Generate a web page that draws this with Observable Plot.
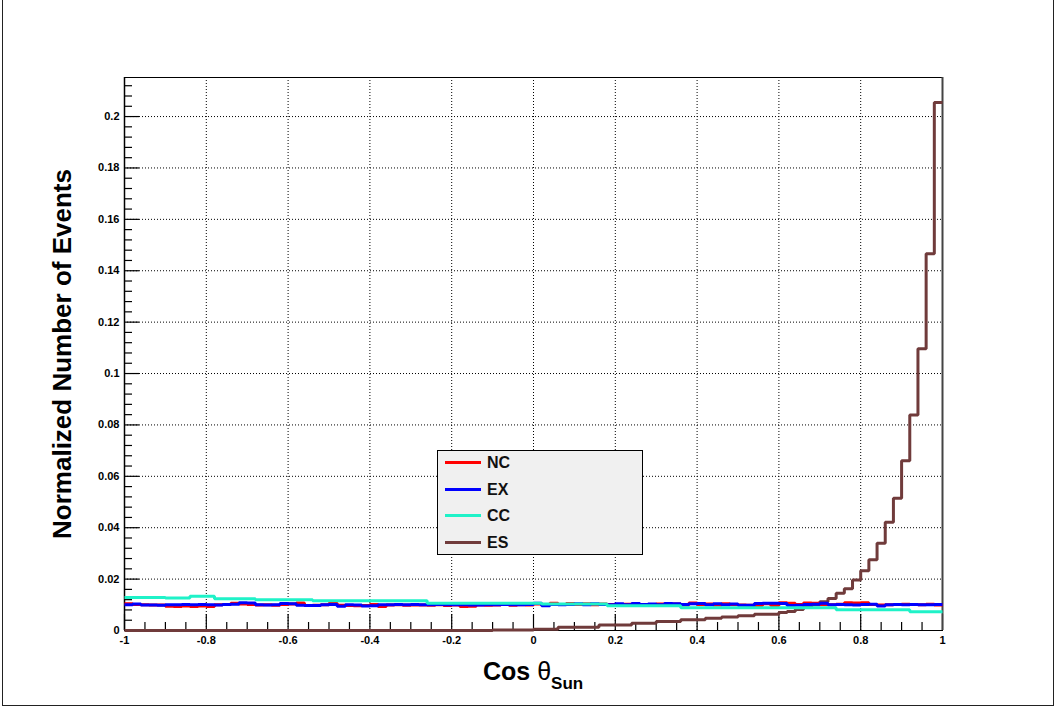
<!DOCTYPE html>
<html>
<head>
<meta charset="utf-8">
<script src="https://cdn.jsdelivr.net/npm/d3@7"></script>
<script src="https://cdn.jsdelivr.net/npm/@observablehq/plot@0.6"></script>
<style>
  body { margin: 0; background: #fff; }
  #wrap { position: relative; width: 1056px; height: 708px; overflow: hidden; font-family: "Liberation Sans", Arial, sans-serif; }
  #canvasBorder { position: absolute; left: 2px; top: -2px; width: 1052px; height: 708px; border: 1px solid #222; box-sizing: border-box; pointer-events: none; }
  #chart { position: absolute; left: 0; top: 0; }
  #ytitle { position: absolute; left: 62px; top: 354px; transform: translate(-50%, -50%) rotate(-90deg); white-space: nowrap; font-weight: bold; font-size: 26px; color: #000; }
  #xtitle { position: absolute; left: 483px; top: 656px; white-space: nowrap; font-weight: bold; font-size: 25px; line-height: 30px; color: #000; }
  #xtitle .th { font-weight: normal; }
  #xtitle .sub { font-size: 17px; position: relative; top: 9px; }
  #legend { position: absolute; left: 437px; top: 450px; width: 206px; height: 105px; background: #f0f0f0; border: 1.5px solid #000; box-sizing: border-box; }
  .lrow { position: absolute; left: 0; height: 20px; }
  .lline { position: absolute; left: 7px; top: 8px; width: 36px; height: 3px; }
  .ltext { position: absolute; left: 49px; top: 0; font-weight: bold; font-size: 16px; line-height: 20px; color: #111; }
</style>
</head>
<body>
<div id="wrap">
  <div id="chart"></div>
  <div id="ytitle">Normalized Number of Events</div>
  <div id="xtitle">Cos <span class="th">θ</span><span class="sub">Sun</span></div>
  <div id="legend"></div>
  <div id="canvasBorder"></div>
</div>
<script>
// ---- data (100 bins of width 0.02 from -1 to 1) ----
const binStart = -1;
const binWidth = 0.02;

const ncValues = [
  0.0104,0.0101,0.0100,0.0099,0.0099,0.0094,0.0093,0.0095,0.0093,0.0095,
  0.0093,0.0100,0.0101,0.0106,0.0103,0.0101,0.0099,0.0100,0.0098,0.0101,
  0.0103,0.0107,0.0097,0.0098,0.0100,0.0106,0.0098,0.0097,0.0096,0.0097,
  0.0101,0.0093,0.0099,0.0100,0.0098,0.0099,0.0099,0.0098,0.0100,0.0097,
  0.0099,0.0093,0.0094,0.0099,0.0098,0.0099,0.0101,0.0098,0.0100,0.0099,
  0.0103,0.0101,0.0106,0.0101,0.0105,0.0101,0.0104,0.0100,0.0103,0.0101,
  0.0100,0.0102,0.0099,0.0101,0.0100,0.0103,0.0098,0.0103,0.0099,0.0107,
  0.0101,0.0103,0.0099,0.0104,0.0101,0.0099,0.0098,0.0097,0.0104,0.0097,
  0.0108,0.0106,0.0101,0.0107,0.0106,0.0101,0.0100,0.0102,0.0108,0.0107,
  0.0108,0.0101,0.0099,0.0100,0.0101,0.0102,0.0101,0.0100,0.0102,0.0099
];

const exValues = [
  0.0100,0.0103,0.0099,0.0099,0.0098,0.0100,0.0100,0.0101,0.0100,0.0101,
  0.0100,0.0099,0.0101,0.0102,0.0108,0.0107,0.0100,0.0099,0.0100,0.0105,
  0.0104,0.0098,0.0097,0.0097,0.0100,0.0101,0.0094,0.0100,0.0099,0.0095,
  0.0096,0.0100,0.0100,0.0101,0.0100,0.0101,0.0100,0.0100,0.0101,0.0100,
  0.0100,0.0100,0.0099,0.0099,0.0100,0.0100,0.0101,0.0100,0.0100,0.0101,
  0.0106,0.0096,0.0101,0.0100,0.0101,0.0104,0.0100,0.0104,0.0101,0.0100,
  0.0104,0.0100,0.0105,0.0101,0.0103,0.0100,0.0105,0.0104,0.0101,0.0104,
  0.0105,0.0100,0.0104,0.0100,0.0103,0.0098,0.0098,0.0105,0.0106,0.0106,
  0.0105,0.0097,0.0098,0.0101,0.0102,0.0106,0.0100,0.0101,0.0100,0.0099,
  0.0101,0.0102,0.0095,0.0100,0.0101,0.0100,0.0101,0.0100,0.0100,0.0101
];

const ccValues = [
  0.0128,0.0128,0.0128,0.0128,0.0128,0.0126,0.0126,0.0126,0.0133,0.0133,
  0.0133,0.0124,0.0124,0.0124,0.0124,0.0124,0.0120,0.0120,0.0120,0.0120,
  0.0120,0.0120,0.0120,0.0116,0.0116,0.0116,0.0116,0.0116,0.0116,0.0116,
  0.0116,0.0116,0.0116,0.0116,0.0116,0.0116,0.0116,0.0106,0.0106,0.0106,
  0.0106,0.0106,0.0106,0.0106,0.0106,0.0106,0.0106,0.0106,0.0106,0.0106,
  0.0106,0.0103,0.0103,0.0103,0.0103,0.0103,0.0103,0.0103,0.0103,0.0096,
  0.0096,0.0096,0.0096,0.0096,0.0096,0.0096,0.0096,0.0096,0.0089,0.0089,
  0.0089,0.0089,0.0089,0.0089,0.0089,0.0089,0.0089,0.0089,0.0089,0.0089,
  0.0089,0.0089,0.0089,0.0089,0.0089,0.0089,0.0089,0.0081,0.0081,0.0081,
  0.0081,0.0081,0.0081,0.0081,0.0081,0.0081,0.0073,0.0073,0.0073,0.0073
];

const esValues = [
  0,0,0,0,0,0,0,0,0,0,
  0,0,0,0,0,0,0,0,0,0,
  0,0,0,0,0,0,0,0,0,0,
  0,0,0,0,0,0,0,0,0,0,
  0,0,0,0,0,0.0002,0.0002,0.0002,0.0002,0.0002,
  0.0005,0.0005,0.0005,0.0013,0.0013,0.0013,0.0013,0.0013,0.0021,0.0021,
  0.0021,0.0021,0.0028,0.0028,0.0028,0.0035,0.0035,0.0035,0.0042,0.0042,
  0.0042,0.0048,0.0048,0.0053,0.0053,0.0057,0.0057,0.0063,0.0063,0.0063,
  0.0070,0.0074,0.0082,0.0091,0.0100,0.0112,0.0125,0.0145,0.0162,0.0197,
  0.0233,0.0275,0.0340,0.0421,0.0515,0.0661,0.0839,0.1096,0.1466,0.2055
];

const seriesNames = ["NC", "EX", "CC", "ES"];
const seriesColors = ["#ff0000", "#0000ff", "#1ff2c8", "#703b3b"];

const xTicks = [-1, -0.8, -0.6, -0.4, -0.2, 0, 0.2, 0.4, 0.6, 0.8, 1];
const yTicks = [0, 0.02, 0.04, 0.06, 0.08, 0.1, 0.12, 0.14, 0.16, 0.18, 0.2];
const xDomain = [-1, 1];
const yDomain = [0, 0.2152];

// ---- build step data ----
function steps(values, name) {
  const pts = values.map((v, i) => ({x: binStart + i * binWidth, y: v, s: name}));
  pts.push({x: binStart + values.length * binWidth, y: values[values.length - 1], s: name});
  return pts;
}
const seriesValues = {NC: ncValues, EX: exValues, CC: ccValues, ES: esValues};
const colorOf = Object.fromEntries(seriesNames.map((n, i) => [n, seriesColors[i]]));

const W = 1056, H = 708;
const mL = 124, mR = 114, mT = 77, mB = 78;
const frameW = W - mL - mR, frameH = H - mT - mB;

const xMinor = d3.range(-1, 1.0001, 0.05).filter(v => Math.abs(v * 5 - Math.round(v * 5)) > 1e-6);
const yMinor = d3.range(0, yDomain[1], 0.004).filter(v => Math.abs(v * 50 - Math.round(v * 50)) > 1e-6);

const fmt = d => String(+d.toFixed(3));

const drawOrder = ["ES", "NC", "EX", "CC"];

const plot = Plot.plot({
  width: W, height: H,
  marginLeft: mL, marginRight: mR, marginTop: mT, marginBottom: mB,
  x: {domain: xDomain},
  y: {domain: yDomain},
  style: {fontFamily: "'Liberation Sans', Arial, sans-serif", fontSize: "11px", fontWeight: "bold", background: "transparent", overflow: "visible"},
  marks: [
    Plot.ruleX(xTicks.slice(1, -1), {stroke: "#000", strokeWidth: 1, strokeDasharray: "1,2"}),
    Plot.ruleY(yTicks.slice(1), {stroke: "#000", strokeWidth: 1, strokeDasharray: "1,2"}),
    Plot.frame({stroke: "#000", strokeWidth: 1}),
    Plot.ruleX(xTicks, {stroke: "#000", strokeWidth: 1.2, insetTop: frameH - 16}),
    Plot.ruleX(xMinor, {stroke: "#000", strokeWidth: 1.2, insetTop: frameH - 8}),
    Plot.ruleY(yTicks, {stroke: "#000", strokeWidth: 1.2, insetRight: frameW - 15}),
    Plot.ruleY(yMinor, {stroke: "#000", strokeWidth: 1.2, insetRight: frameW - 8}),
    Plot.ruleX([xDomain[1]], {stroke: "#444", strokeWidth: 2}),
    Plot.ruleX([xDomain[0]], {stroke: "#000", strokeWidth: 1.5}),
    ...drawOrder.map(n => Plot.line(steps(seriesValues[n], n), {x: "x", y: "y", curve: "step-after", stroke: colorOf[n], strokeWidth: 3, strokeLinejoin: "miter", strokeLinecap: "butt"})),
    Plot.axisX({ticks: xTicks, tickSize: 0, tickPadding: 6, tickFormat: fmt, label: null}),
    Plot.axisY({ticks: yTicks, tickSize: 0, tickPadding: 5, tickFormat: fmt, label: null})
  ]
});
document.getElementById("chart").appendChild(plot);

// ---- legend ----
const legend = document.getElementById("legend");
const rowTops = [2, 28.5, 55, 81.5];
seriesNames.forEach((n, i) => {
  const row = document.createElement("div");
  row.className = "lrow";
  row.style.top = rowTops[i] + "px";
  row.style.width = "100%";
  const ln = document.createElement("div");
  ln.className = "lline";
  ln.style.background = seriesColors[i];
  const tx = document.createElement("div");
  tx.className = "ltext";
  tx.textContent = n;
  row.appendChild(ln); row.appendChild(tx);
  legend.appendChild(row);
});
</script>
</body>
</html>
